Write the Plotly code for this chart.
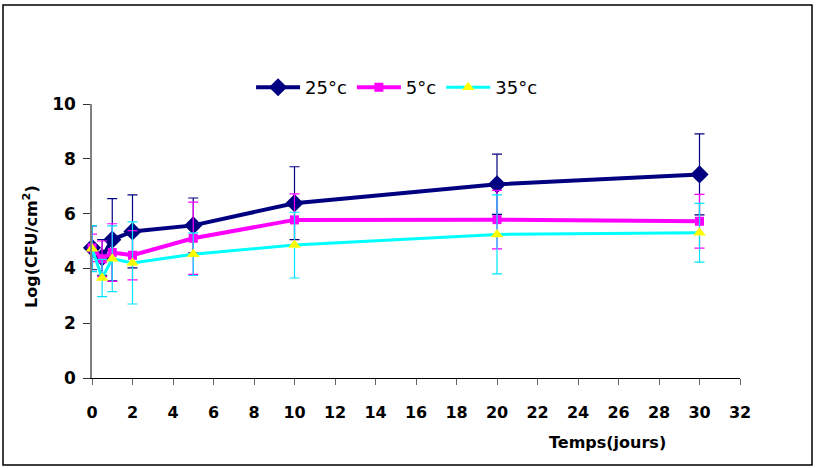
import plotly.graph_objects as go

days = [0, 0.5, 1, 2, 5, 10, 20, 30]

t25 = [4.75, 4.4, 5.05, 5.35, 5.57, 6.38, 7.07, 7.43]
e25 = [0.8, 0.65, 1.5, 1.33, 1.0, 1.33, 1.1, 1.48]

t5 = [4.75, 4.35, 4.58, 4.48, 5.1, 5.77, 5.78, 5.72]
e5 = [0.5, 0.65, 1.05, 0.9, 1.32, 0.95, 1.07, 0.98]

t35 = [4.72, 3.65, 4.35, 4.2, 4.52, 4.85, 5.24, 5.3]
e35 = [0.84, 0.68, 1.2, 1.5, 0.78, 1.2, 1.44, 1.07]

names = ["25°c", "5°c", "35°c"]
x_ticks = list(range(0, 33, 2))
y_ticks = list(range(0, 11, 2))

FONT = "DejaVu Sans"

fig = go.Figure()

fig.add_trace(go.Scatter(
    x=days, y=t25, name=names[0], mode="lines+markers", cliponaxis=False,
    line=dict(color="#000080", width=4),
    marker=dict(symbol="diamond", size=14, color="#000080"),
    error_y=dict(type="data", array=e25, visible=True, color="#000080",
                 thickness=1.2, width=5),
))
fig.add_trace(go.Scatter(
    x=days, y=t5, name=names[1], mode="lines+markers", cliponaxis=False,
    line=dict(color="#FF00FF", width=4),
    marker=dict(symbol="square", size=9, color="#FF00FF"),
    error_y=dict(type="data", array=e5, visible=True, color="#FF00FF",
                 thickness=1.2, width=5),
))
fig.add_trace(go.Scatter(
    x=days, y=t35, name=names[2], mode="lines+markers", cliponaxis=False,
    line=dict(color="#00FFFF", width=3),
    marker=dict(symbol="triangle-up", size=11, color="#FFFF00"),
    error_y=dict(type="data", array=e35, visible=True, color="#00E5FF",
                 thickness=1.2, width=5),
))

fig.update_layout(
    width=816, height=468,
    margin=dict(l=92, r=76, t=104, b=90),
    paper_bgcolor="white", plot_bgcolor="white",
    font=dict(family=FONT, color="black"),
    showlegend=True,
    legend=dict(orientation="h", x=0.47, xanchor="center", y=1.06, yanchor="middle",
                font=dict(size=18, family=FONT), itemwidth=44,
                bgcolor="rgba(0,0,0,0)"),
    xaxis=dict(range=[0, 32], tickvals=x_ticks, ticktext=[str(v) for v in x_ticks],
               showgrid=False, zeroline=False, showline=True, linecolor="black",
               linewidth=1, ticks="outside", ticklen=6, tickcolor="#666666",
               ticklabelstandoff=14,
               tickfont=dict(size=16, family=FONT, weight="bold")),
    yaxis=dict(range=[0, 10], tickvals=y_ticks, ticktext=[str(v) for v in y_ticks],
               showgrid=False, zeroline=False, showline=True, linecolor="#808080",
               linewidth=1.5, ticks="outside", ticklen=7, tickcolor="#333333",
               ticklabelstandoff=4,
               tickfont=dict(size=17, family=FONT, weight="bold")),
    shapes=[dict(type="rect", xref="paper", yref="paper",
                 x0=(3 - 92) / 648, x1=(812 - 92) / 648,
                 y0=(378 - 465) / 274, y1=(378 - 5) / 274,
                 line=dict(color="black", width=1.5), layer="below")],
    annotations=[
        dict(text="Temps(jours)", xref="paper", yref="paper",
             x=(607 - 92) / 648, y=(378 - 443) / 274, showarrow=False,
             xanchor="center", yanchor="middle",
             font=dict(size=16, family=FONT, weight="bold")),
        dict(text="Log(CFU/cm<sup>2</sup>)", xref="paper", yref="paper",
             x=(30 - 92) / 648, y=(378 - 247) / 274, showarrow=False,
             textangle=-90, xanchor="center", yanchor="middle",
             font=dict(size=16, family=FONT, weight="bold")),
    ],
)

fig.write_html("out.html",
               config={"displayModeBar": False},
               post_script="document.body.style.margin='0';document.body.style.padding='0';")
